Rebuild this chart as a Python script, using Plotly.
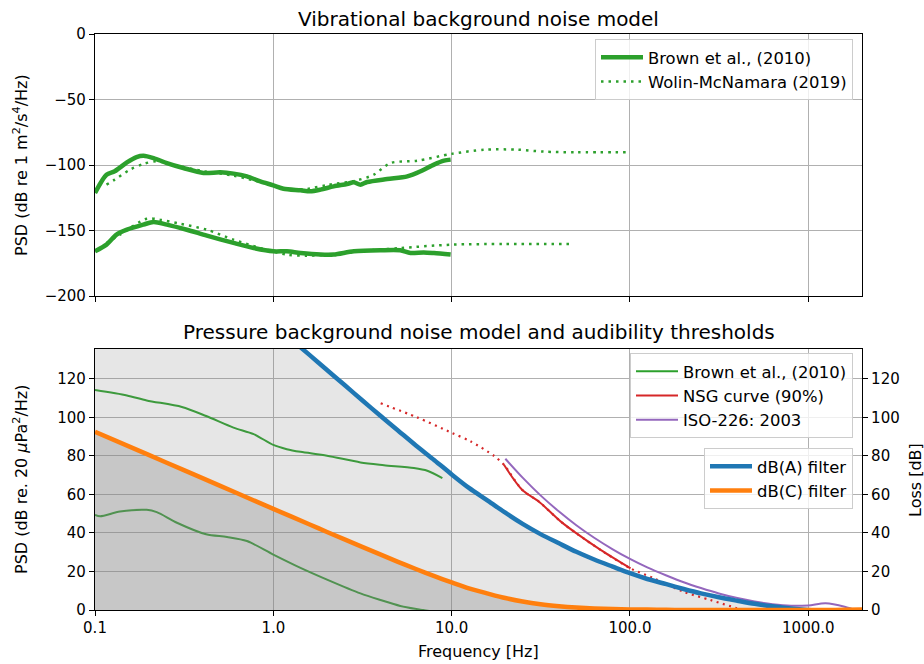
import plotly.graph_objects as go

# ---------------- Vibrational background noise (acceleration PSD) ----------------
vib_brown_hi_freq = [0.1, 0.116, 0.129, 0.151, 0.171, 0.187, 0.213, 0.253, 0.313, 0.406,
                     0.504, 0.598, 0.711, 0.845, 1.0, 1.14, 1.42, 1.61, 1.84, 2.18,
                     2.59, 2.83, 3.08, 3.36, 4.35, 5.64, 6.70, 7.96, 9.06, 9.87]
vib_brown_hi_psd = [-121.4, -107.4, -104.8, -98.0, -93.9, -92.9, -94.7, -98.5, -102.3, -106.1,
                    -105.6, -106.6, -108.7, -112.5, -115.5, -118.1, -119.3, -120.1, -118.8, -116.3,
                    -114.5, -113.2, -115.0, -113.0, -110.7, -108.7, -104.8, -99.7, -96.7, -95.9]

vib_brown_lo_freq = [0.1, 0.116, 0.132, 0.151, 0.187, 0.213, 0.253, 0.327, 0.424, 0.598,
                     0.776, 1.0, 1.19, 1.42, 1.84, 2.18, 2.83, 3.98, 5.15, 5.87,
                     6.97, 7.96, 9.87]
vib_brown_lo_psd = [-165.9, -160.8, -153.2, -149.4, -145.5, -143.5, -145.5, -149.4, -153.9, -159.5,
                    -163.4, -165.9, -165.9, -167.2, -168.4, -168.4, -165.9, -165.1, -165.1, -167.2,
                    -166.7, -167.2, -168.4]

vib_wolin_hi_freq = [0.116, 0.129, 0.157, 0.187, 0.222, 0.30, 0.406, 0.598, 0.845, 1.0,
                     1.19, 1.54, 2.0, 2.95, 3.66, 4.54, 6.41, 10.0, 15.2, 23.3,
                     32.9, 50.0, 100.0]
vib_wolin_hi_psd = [-115.0, -111.2, -103.6, -99.2, -97.2, -101.0, -104.8, -108.1, -113.0, -115.5,
                    -118.3, -118.3, -115.3, -111.7, -107.4, -98.5, -96.7, -91.5, -88.3, -88.3,
                    -89.8, -90.3, -90.3]

vib_wolin_lo_freq = [0.116, 0.138, 0.195, 0.23, 0.30, 0.424, 0.598, 0.845, 1.19, 1.54,
                     2.18, 3.08, 5.15, 10.0, 20.0, 48.4]
vib_wolin_lo_psd = [-159.5, -153.2, -141.0, -141.7, -144.8, -149.4, -157.0, -163.4, -168.4, -169.2,
                    -168.4, -165.9, -163.4, -160.8, -160.3, -160.3]

# ---------------- Pressure background noise and audibility ----------------
prs_brown_hi_freq = [0.1, 0.151, 0.195, 0.307, 0.42, 0.598, 0.776, 1.0, 1.19, 1.42,
                     2.0, 3.08, 4.17, 6.14, 7.3, 8.87]
prs_brown_hi_psd = [114.2, 111.4, 108.8, 105.4, 100.7, 94.7, 91.3, 85.7, 83.5, 82.1,
                    80.1, 76.6, 75.2, 73.7, 72.3, 68.5]

prs_brown_lo_freq = [0.1, 0.107, 0.138, 0.195, 0.222, 0.288, 0.42, 0.55, 0.711, 1.0,
                     1.42, 2.0, 3.08, 3.98, 5.15, 6.9, 8.87]
prs_brown_lo_psd = [49.4, 48.7, 51.1, 52.0, 50.8, 45.3, 39.3, 37.9, 35.8, 28.8,
                    21.9, 15.8, 8.6, 5.2, 2.1, 0.0, -1.5]

nsg_freq = [4.0, 6.4, 10.0, 12.8, 17.3, 19.6, 24.9, 30.8, 40.8, 50.6,
            68.4, 100.7, 136.0, 199.0, 282.0, 398.0]
nsg_psd = [107.3, 100.0, 92.0, 87.5, 80.0, 75.5, 62.3, 56.3, 46.0, 39.5,
           31.2, 21.6, 16.5, 9.5, 5.2, 0.9]
nsg_solid_from, nsg_solid_to = 19.6, 100.7   # measured band of the NSG curve

iso_freq = [20, 25, 31.5, 40, 50, 63, 80, 100, 125, 160, 200, 250, 315, 400, 500,
            630, 800, 1000, 1250, 1600, 2000]
iso_psd = [78.5, 68.7, 59.5, 51.1, 44.0, 37.5, 31.5, 26.5, 22.1, 17.9, 14.4, 11.4, 8.6,
           6.2, 4.4, 3.0, 2.2, 2.4, 3.5, 1.7, -1.3]

# Frequency-weighting attenuation (loss, dB)
dba_freq = [0.1, 0.2, 0.5, 1.0, 1.25, 1.6, 2.0, 2.5, 3.15, 4.0, 5.0, 6.3, 8.0, 10, 12.5, 16,
            20, 25, 31.5, 40, 50, 63, 80, 100, 125, 160, 200, 250, 315, 400, 500, 630,
            800, 1000, 1250, 1600, 2000]
dba_loss = [228.6, 204.5, 172.7, 148.6, 140.8, 132.3, 124.6, 116.9, 108.9, 100.7, 93.2, 85.4,
            77.8, 70.4, 63.4, 56.7, 50.5, 44.7, 39.4, 34.6, 30.2, 26.2, 22.5, 19.1, 16.1, 13.4,
            10.9, 8.6, 6.6, 4.8, 3.2, 1.9, 0.8, 0.0, -0.6, -1.0, -1.2]

dbc_freq = [0.1, 0.2, 0.315, 0.5, 0.8, 1.0, 1.6, 2.0, 3.15, 5.0, 6.3, 8.0, 10, 12.5, 16, 20,
            25, 31.5, 40, 50, 63, 80, 100, 125, 160, 200, 250, 315, 400, 500, 630, 800,
            1000, 1250, 1600, 2000]
dbc_loss = [92.5, 80.5, 72.6, 64.6, 56.4, 52.5, 44.4, 40.5, 32.8, 25.0, 21.3, 17.6, 14.3,
            11.2, 8.5, 6.2, 4.4, 3.0, 2.0, 1.3, 0.8, 0.5, 0.3, 0.2, 0.1, 0.0, 0.0, 0.0, 0.0,
            0.0, 0.0, 0.0, 0.0, 0.0, 0.1, 0.2]

# Axis ticks
x_minor = [m * 10 ** e for e in range(-1, 3) for m in range(2, 10)] + [2000]
vib_ticks = [-200, -150, -100, -50, 0]
prs_ticks = [0, 20, 40, 60, 80, 100, 120]

GREEN, RED, PURPLE, BLUE, ORANGE = "#2ca02c", "#d62728", "#9467bd", "#1f77b4", "#ff7f0e"
FONT = "DejaVu Sans"
SMOOTH = dict(shape="spline", smoothing=0.8)

fig = go.Figure()

# --- top panel ---
fig.add_trace(go.Scatter(x=vib_brown_hi_freq, y=vib_brown_hi_psd, mode="lines",
                         line=dict(color=GREEN, width=4.5, **SMOOTH), name="Brown et al., (2010)",
                         legendgroup="vb", legend="legend", xaxis="x", yaxis="y"))
fig.add_trace(go.Scatter(x=vib_brown_lo_freq, y=vib_brown_lo_psd, mode="lines",
                         line=dict(color=GREEN, width=4.5, **SMOOTH), name="Brown et al., (2010)",
                         legendgroup="vb", showlegend=False, xaxis="x", yaxis="y"))
fig.add_trace(go.Scatter(x=vib_wolin_hi_freq, y=vib_wolin_hi_psd, mode="lines",
                         line=dict(color=GREEN, width=2.5, dash="2.5px,5px", **SMOOTH),
                         name="Wolin-McNamara (2019)", legendgroup="vw", legend="legend",
                         xaxis="x", yaxis="y"))
fig.add_trace(go.Scatter(x=vib_wolin_lo_freq, y=vib_wolin_lo_psd, mode="lines",
                         line=dict(color=GREEN, width=2.5, dash="2.5px,5px", **SMOOTH),
                         name="Wolin-McNamara (2019)", legendgroup="vw", showlegend=False,
                         xaxis="x", yaxis="y"))

# --- bottom panel: noise model lines (below the shaded weighting areas) ---
fig.add_trace(go.Scatter(x=prs_brown_hi_freq, y=prs_brown_hi_psd, mode="lines",
                         line=dict(color=GREEN, width=2, **SMOOTH), name="Brown et al., (2010)",
                         legendgroup="pb", legend="legend2", xaxis="x2", yaxis="y2"))
fig.add_trace(go.Scatter(x=prs_brown_lo_freq, y=prs_brown_lo_psd, mode="lines",
                         line=dict(color=GREEN, width=2, **SMOOTH), name="Brown et al., (2010)",
                         legendgroup="pb", showlegend=False, xaxis="x2", yaxis="y2"))

# shaded areas under the weighting curves
fig.add_trace(go.Scatter(x=dba_freq, y=dba_loss, mode="lines", fill="tozeroy",
                         fillcolor="rgba(128,128,128,0.2)", line=dict(width=0, **SMOOTH),
                         showlegend=False, hoverinfo="skip", xaxis="x2", yaxis="y2"))
fig.add_trace(go.Scatter(x=dbc_freq, y=dbc_loss, mode="lines", fill="tozeroy",
                         fillcolor="rgba(128,128,128,0.3)", line=dict(width=0, **SMOOTH),
                         showlegend=False, hoverinfo="skip", xaxis="x2", yaxis="y2"))

# NSG curve: dotted over full extent, solid in the measured band
fig.add_trace(go.Scatter(x=nsg_freq, y=nsg_psd, mode="lines",
                         line=dict(color=RED, width=2.2, dash="2px,4.5px", **SMOOTH),
                         showlegend=False, legendgroup="nsg", xaxis="x2", yaxis="y2"))
solid_f = [f for f in nsg_freq if nsg_solid_from <= f <= nsg_solid_to]
solid_v = [v for f, v in zip(nsg_freq, nsg_psd) if nsg_solid_from <= f <= nsg_solid_to]
fig.add_trace(go.Scatter(x=solid_f, y=solid_v, mode="lines",
                         line=dict(color=RED, width=2, **SMOOTH), name="NSG curve (90%)",
                         legendgroup="nsg", legend="legend2", xaxis="x2", yaxis="y2"))
fig.add_trace(go.Scatter(x=iso_freq, y=iso_psd, mode="lines",
                         line=dict(color=PURPLE, width=2, **SMOOTH), name="ISO-226: 2003",
                         legendgroup="iso", legend="legend2", xaxis="x2", yaxis="y2"))

# weighting filters on the loss axis
fig.add_trace(go.Scatter(x=dba_freq, y=dba_loss, mode="lines",
                         line=dict(color=BLUE, width=4.5, **SMOOTH), name="dB(A) filter",
                         legendgroup="dba", legend="legend3", xaxis="x2", yaxis="y3"))
fig.add_trace(go.Scatter(x=dbc_freq, y=dbc_loss, mode="lines",
                         line=dict(color=ORANGE, width=4.5, **SMOOTH), name="dB(C) filter",
                         legendgroup="dbc", legend="legend3", xaxis="x2", yaxis="y3"))

# ---------------- layout ----------------
L, R, T, B = 95, 62, 34, 54
W, H = 924, 664
PW, PH = W - L - R, H - T - B


def px_x(px):
    return (px - L) / PW


def px_y(py):
    return (H - B - py) / PH


X_RANGE = [-1, 3.30103]
axis_common = dict(showline=True, linecolor="black", linewidth=1.2, ticks="outside",
                   ticklen=5, tickwidth=1.2, tickcolor="black", showgrid=True,
                   gridcolor="#b0b0b0", gridwidth=1, zeroline=False, automargin=False,
                   tickfont=dict(family=FONT, size=15, color="black"))
# decade ticks on a log axis, labelled with one decimal
x_common = dict(axis_common, type="log", range=X_RANGE, tickmode="linear", tick0=0,
                dtick=1, tickformat=".1f", mirror=True)
# overlay axes carrying only the minor (2..9) log ticks
x_minor_axis = dict(type="log", range=X_RANGE, tickmode="array", tickvals=x_minor,
                    ticks="outside", ticklen=3, tickwidth=1, tickcolor="black",
                    showticklabels=False, showgrid=False, showline=False, zeroline=False)

legend_common = dict(bgcolor="rgba(255,255,255,0.8)", bordercolor="#cccccc", borderwidth=1,
                     font=dict(family=FONT, size=16.4, color="black"), xanchor="right",
                     yanchor="top", traceorder="grouped", tracegroupgap=0, itemwidth=42)

fig.update_layout(
    width=W, height=H, margin=dict(l=L, r=R, t=T, b=B, autoexpand=False),
    paper_bgcolor="white", plot_bgcolor="white",
    font=dict(family=FONT, size=15, color="black"),
    xaxis=dict(x_common, domain=[0, 1], anchor="y", showticklabels=False),
    yaxis=dict(axis_common, domain=[px_y(296), 1], anchor="x", range=[-200, 0],
               tickmode="array", tickvals=vib_ticks, mirror=True),
    xaxis2=dict(x_common, domain=[0, 1], anchor="y2", ticklabelstandoff=-1),
    yaxis2=dict(axis_common, domain=[0, px_y(349)], anchor="x2", range=[0, 135.5],
                tickmode="array", tickvals=prs_ticks),
    yaxis3=dict(axis_common, overlaying="y2", side="right", anchor="x2", range=[0, 135.5],
                tickmode="array", tickvals=prs_ticks, showgrid=False),
    xaxis3=dict(x_minor_axis, overlaying="x", anchor="y", side="bottom"),
    xaxis4=dict(x_minor_axis, overlaying="x2", anchor="y2", side="bottom"),
    legend=dict(legend_common, x=px_x(853), y=px_y(39)),
    legend2=dict(legend_common, x=px_x(853), y=px_y(353)),
    legend3=dict(legend_common, x=px_x(853), y=px_y(448)),
    showlegend=True,
)

ann_font = dict(family=FONT, size=16, color="black")
title_font = dict(family=FONT, size=20, color="black")
fig.add_annotation(text="Vibrational background noise model", xref="paper", yref="paper",
                   x=0.5, y=px_y(19), xanchor="center", yanchor="middle",
                   showarrow=False, font=title_font)
fig.add_annotation(text="Pressure background noise model and audibility thresholds",
                   xref="paper", yref="paper", x=0.5, y=px_y(332), xanchor="center",
                   yanchor="middle", showarrow=False, font=title_font)
fig.add_annotation(text="Frequency [Hz]", xref="paper", yref="paper", x=px_x(478.5),
                   y=px_y(651), xanchor="center", yanchor="middle", showarrow=False,
                   font=ann_font)
fig.add_annotation(text="PSD (dB re 1 m<sup>2</sup>/s<sup>4</sup>/Hz)", xref="paper",
                   yref="paper", x=px_x(20), y=px_y(165), xanchor="center",
                   yanchor="middle", textangle=-90, showarrow=False, font=ann_font)
fig.add_annotation(text="PSD (dB re. 20 <i>μ</i>Pa<sup>2</sup>/Hz)", xref="paper",
                   yref="paper", x=px_x(20), y=px_y(480), xanchor="center",
                   yanchor="middle", textangle=-90, showarrow=False, font=ann_font)
fig.add_annotation(text="Loss [dB]", xref="paper", yref="paper", x=px_x(915),
                   y=px_y(480), xanchor="center", yanchor="middle", textangle=-90,
                   showarrow=False, font=ann_font)

fig.write_html("out.html")
